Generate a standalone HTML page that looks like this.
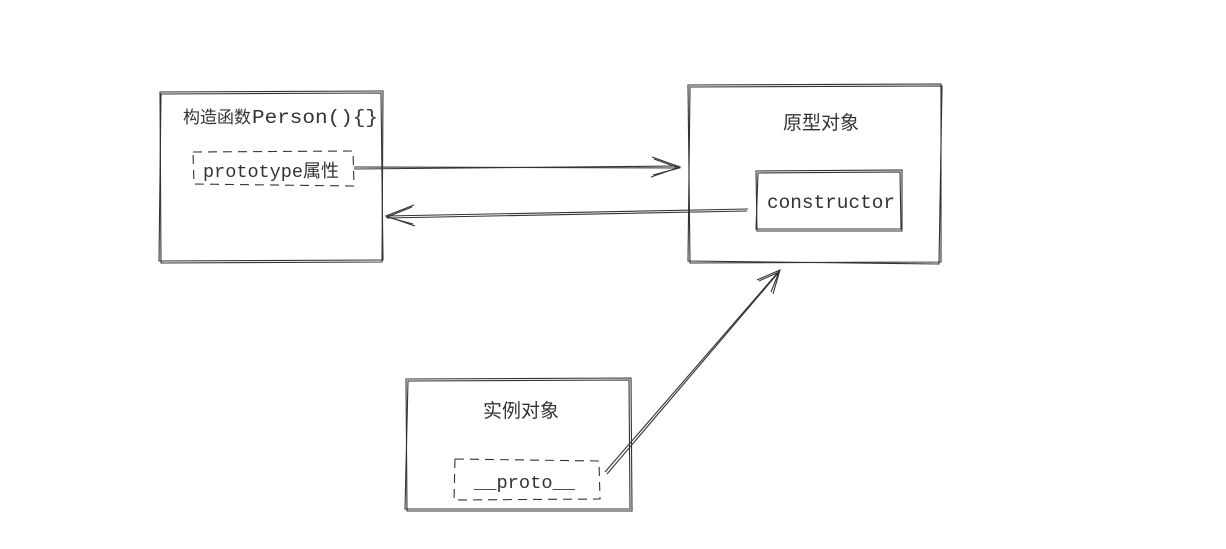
<!DOCTYPE html>
<html><head><meta charset="utf-8"><style>
body{margin:0;background:#fff;width:1226px;height:544px;overflow:hidden}
svg text{fill:#333}
</style></head><body>
<svg width="1226" height="544" viewBox="0 0 1226 544" xmlns="http://www.w3.org/2000/svg">
<g fill="none" stroke="#333" stroke-width="1.1">
<path d="M160 92 L383 91 L382 262 L161 263 Z"/>
<path d="M161 94 L381 93 L383 260 L159 261 Z"/>
<path d="M688 85 L941 84 L941 262 L690 263 Z"/>
<path d="M690 87 L942 86 L939 264 L688 261 Z"/>
<path d="M756 171 L902 170 L902 231 L757 231 Z"/>
<path d="M758 173 L900 172 L901 229 L756 229 Z"/>
<path d="M406 379 L631 378 L632 511 L407 511 Z"/>
<path d="M408 381 L629 380 L630 509 L405 509 Z"/>
<path d="M193 152 L353 151 L354 186 L194 184 Z" stroke-dasharray="9 6"/>
<path d="M455 459 L599 461 L600 499 L454 500 Z" stroke-dasharray="9 6"/>
<path d="M354 167 L680 168"/><path d="M354 169 L679 166"/>
<path d="M652 157 L680 167 L651 177"/><path d="M654 159 L679 168 L653 175"/>
<path d="M748 209 L386 216"/><path d="M747 211 L387 218"/>
<path d="M414 205 L386 216 L415 226"/><path d="M412 207 L387 217 L413 224"/>
<path d="M605 472 L780 270"/><path d="M607 474 L779 272"/>
<path d="M757 280 L780 270 L773 294"/><path d="M759 281 L779 272 L771 292"/>
</g>
<g font-family="'Liberation Mono','Noto Sans CJK SC',monospace">
<text x="183" y="123" font-family="'Noto Sans CJK SC',sans-serif" font-size="17">构造函数</text>
<text x="252" y="123" font-size="19" textLength="126" lengthAdjust="spacingAndGlyphs">Person(){}</text>
<text x="203" y="177" font-size="18.5" textLength="100" lengthAdjust="spacingAndGlyphs">prototype</text>
<text x="303" y="177" font-family="'Noto Sans CJK SC',sans-serif" font-size="18">属性</text>
<text x="783" y="129" font-family="'Noto Sans CJK SC',sans-serif" font-size="19">原型对象</text>
<text x="767" y="208" font-size="19.5" textLength="128" lengthAdjust="spacingAndGlyphs">constructor</text>
<text x="483" y="417" font-family="'Noto Sans CJK SC',sans-serif" font-size="19">实例对象</text>
<text x="474" y="488" font-size="18.5" textLength="101" lengthAdjust="spacingAndGlyphs">__proto__</text>
</g>
</svg>
</body></html>
